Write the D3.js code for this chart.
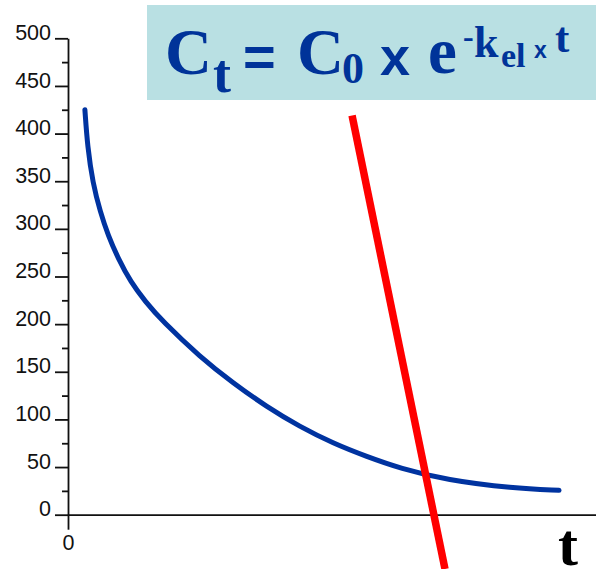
<!DOCTYPE html>
<html>
<head>
<meta charset="utf-8">
<script src="https://cdn.jsdelivr.net/npm/d3@7"></script>
<style>
  html, body { margin: 0; padding: 0; background: #fff; }
  svg { display: block; }
</style>
</head>
<body>
<svg id="chart" width="596" height="569"></svg>
<script>
// Plasma concentration over time (first-order elimination)
const timePoints = [3.2, 3.7, 4.7, 6.1, 7.6, 9.5, 11.9, 14.6, 17.8, 25.0, 31.3, 37.6, 43.9, 50.2, 56.6, 62.9, 71.7, 84.3, 93.0];
const concentration = [425, 386, 348, 318, 293, 269, 244, 224, 203.5, 165.6, 138, 113.4, 92.4, 75, 61, 48.7, 36.4, 27.7, 25.6];

// Straight reference line crossing the curve
const lineTime = [53.8, 71.4];
const lineConc = [419, -57];

// Axis ticks
const yMajorTicks = [0, 50, 100, 150, 200, 250, 300, 350, 400, 450, 500];
const yMinorTicks = [25, 75, 125, 175, 225, 275, 325, 375, 425, 475];
const xTicks = [0];

const svg = d3.select("#chart");

const x = d3.scaleLinear().domain([0, 100]).range([68, 596]);
const y = d3.scaleLinear().domain([0, 500]).range([514.7, 38.3]);

const axisColor = "#111";

// Y axis: minor ticks first, then major ticks with labels
const yMinor = svg.append("g")
  .attr("transform", `translate(${x(0)},0)`)
  .call(d3.axisLeft(y).tickValues(yMinorTicks).tickSize(6).tickSizeOuter(0).tickFormat(""));
yMinor.select(".domain").remove();
yMinor.selectAll("line").attr("stroke", axisColor).attr("stroke-width", 1.8);

const yAxis = svg.append("g")
  .attr("transform", `translate(${x(0)},0)`)
  .call(d3.axisLeft(y).tickValues(yMajorTicks).tickSize(13).tickSizeOuter(0).tickPadding(4));
yAxis.select(".domain").attr("stroke", axisColor).attr("stroke-width", 1.8);
yAxis.selectAll(".tick line").attr("stroke", axisColor).attr("stroke-width", 1.8);
yAxis.selectAll(".tick text")
  .attr("font-family", "'Liberation Sans', Arial, sans-serif")
  .attr("font-size", 21.5)
  .attr("fill", "#111")
  .attr("dy", "0.05em");

// X axis
const xAxis = svg.append("g")
  .attr("transform", `translate(0,${y(0)})`)
  .call(d3.axisBottom(x).tickValues(xTicks).tickSize(15).tickSizeOuter(0).tickPadding(5));
xAxis.select(".domain").attr("stroke", axisColor).attr("stroke-width", 1.8);
xAxis.selectAll(".tick line").attr("stroke", axisColor).attr("stroke-width", 1.8);
xAxis.selectAll(".tick text")
  .attr("font-family", "'Liberation Sans', Arial, sans-serif")
  .attr("font-size", 21.5)
  .attr("fill", "#111");

// Axis title
svg.append("text")
  .attr("x", 558).attr("y", 565)
  .attr("font-family", "'Liberation Serif', 'Times New Roman', serif")
  .attr("font-weight", "bold")
  .attr("font-size", 60)
  .attr("fill", "#000")
  .text("t");

// Concentration curve
const curveData = timePoints.map((t, i) => ({ t, c: concentration[i] }));
svg.append("path")
  .datum(curveData)
  .attr("fill", "none")
  .attr("stroke", "#0033a0")
  .attr("stroke-width", 5)
  .attr("stroke-linecap", "round")
  .attr("stroke-linejoin", "round")
  .attr("d", d3.line().x(d => x(d.t)).y(d => y(d.c)).curve(d3.curveBasis));

// Straight red line
const redData = lineTime.map((t, i) => ({ t, c: lineConc[i] }));
svg.append("path")
  .datum(redData)
  .attr("fill", "none")
  .attr("stroke", "#ff0000")
  .attr("stroke-width", 7.5)
  .attr("d", d3.line().x(d => x(d.t)).y(d => y(d.c)));

// Formula box
svg.append("rect")
  .attr("x", 147).attr("y", 5).attr("width", 449).attr("height", 95)
  .attr("fill", "#b9e0e3");

const formula = svg.append("g").attr("fill", "#003399").attr("font-weight", "bold");
const serif = "'Liberation Serif', 'Times New Roman', serif";
const sans = "'Liberation Sans', Arial, sans-serif";
const parts = [
  { s: "C",  x: 165, y: 74,   size: 65, f: serif },
  { s: "t",  x: 213, y: 91.5, size: 54, f: serif },
  { s: "=",  x: 243, y: 76,   size: 56, f: sans },
  { s: "C",  x: 297, y: 74,   size: 65, f: serif },
  { s: "0",  x: 342, y: 83,   size: 44, f: serif },
  { s: "x",  x: 380, y: 75,   size: 54, f: sans },
  { s: "e",  x: 428, y: 73,   size: 65, f: serif },
  { s: "-",  x: 463, y: 47,   size: 32, f: serif },
  { s: "k",  x: 474, y: 56.5, size: 44, f: serif },
  { s: "el", x: 501, y: 66.5, size: 34, f: serif },
  { s: "x",  x: 534, y: 58,   size: 23, f: sans },
  { s: "t",  x: 555, y: 51.5, size: 43, f: serif }
];
formula.selectAll("text")
  .data(parts)
  .join("text")
  .attr("x", d => d.x)
  .attr("y", d => d.y)
  .attr("font-size", d => d.size)
  .attr("font-family", d => d.f)
  .text(d => d.s);
</script>
</body>
</html>
